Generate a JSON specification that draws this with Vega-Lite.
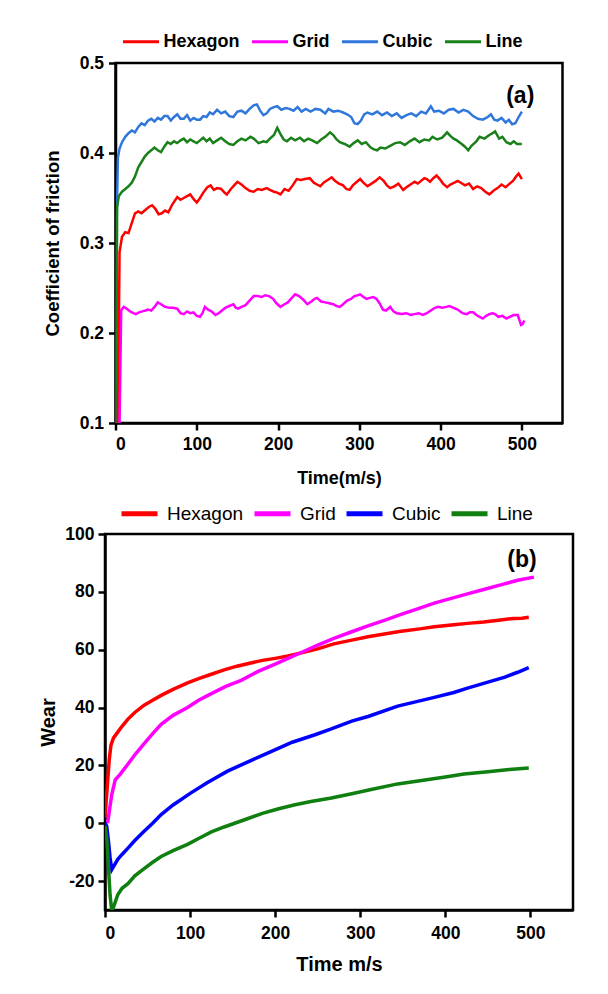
{
"$schema": "https://vega.github.io/schema/vega-lite/v6.json",
"background": "white",
"padding": {"left": 37, "top": 20, "right": 5, "bottom": 5},
"autosize": {"type": "pad"},
"bounds": "flush",
"center": true,
"spacing": 111,
"resolve": {"scale": {"color": "independent"}, "legend": {"color": "independent"}},
"config": {
  "font": "Liberation Sans",
  "view": {"stroke": "black", "strokeWidth": 2.5},
  "axis": {"domainColor": "black", "domainWidth": 2.5, "tickColor": "black", "tickWidth": 2.5, "tickSize": 7, "labelColor": "black", "labelFont": "Liberation Sans", "labelFontWeight": "bold", "labelFontSize": 17.5, "titleColor": "black", "titleFont": "Liberation Sans", "titleFontWeight": "bold", "grid": false},
  "legend": {"padding": 0, "labelColor": "black", "labelFont": "Liberation Sans", "symbolType": "stroke"}
},
"datasets": {
"cof": [
{"s":"Cubic","t":0.5,"v":0.1},{"s":"Cubic","t":1.5,"v":0.33},{"s":"Cubic","t":3,"v":0.395},{"s":"Cubic","t":5,"v":0.405},{"s":"Cubic","t":8,"v":0.412},{"s":"Cubic","t":12,"v":0.418},{"s":"Cubic","t":16,"v":0.422},{"s":"Cubic","t":20,"v":0.425},{"s":"Cubic","t":24,"v":0.423},{"s":"Cubic","t":28,"v":0.429},{"s":"Cubic","t":32,"v":0.433},{"s":"Cubic","t":36,"v":0.431},{"s":"Cubic","t":40,"v":0.436},{"s":"Cubic","t":44,"v":0.438},{"s":"Cubic","t":48,"v":0.435},{"s":"Cubic","t":52,"v":0.439},{"s":"Cubic","t":56,"v":0.437},{"s":"Cubic","t":60,"v":0.441},{"s":"Cubic","t":64,"v":0.441},{"s":"Cubic","t":68,"v":0.436},{"s":"Cubic","t":72,"v":0.44},{"s":"Cubic","t":76,"v":0.443},{"s":"Cubic","t":80,"v":0.438},{"s":"Cubic","t":84,"v":0.438},{"s":"Cubic","t":88,"v":0.442},{"s":"Cubic","t":92,"v":0.436},{"s":"Cubic","t":96,"v":0.439},{"s":"Cubic","t":100,"v":0.437},{"s":"Cubic","t":104,"v":0.437},{"s":"Cubic","t":108,"v":0.441},{"s":"Cubic","t":112,"v":0.44},{"s":"Cubic","t":116,"v":0.445},{"s":"Cubic","t":120,"v":0.443},{"s":"Cubic","t":125,"v":0.448},{"s":"Cubic","t":130,"v":0.444},{"s":"Cubic","t":135,"v":0.446},{"s":"Cubic","t":140,"v":0.441},{"s":"Cubic","t":145,"v":0.44},{"s":"Cubic","t":150,"v":0.446},{"s":"Cubic","t":155,"v":0.447},{"s":"Cubic","t":160,"v":0.444},{"s":"Cubic","t":165,"v":0.449},{"s":"Cubic","t":170,"v":0.453},{"s":"Cubic","t":174,"v":0.454},{"s":"Cubic","t":178,"v":0.447},{"s":"Cubic","t":182,"v":0.442},{"s":"Cubic","t":186,"v":0.444},{"s":"Cubic","t":190,"v":0.449},{"s":"Cubic","t":195,"v":0.451},{"s":"Cubic","t":199,"v":0.452},{"s":"Cubic","t":204,"v":0.448},{"s":"Cubic","t":209,"v":0.45},{"s":"Cubic","t":214,"v":0.449},{"s":"Cubic","t":219,"v":0.447},{"s":"Cubic","t":224,"v":0.451},{"s":"Cubic","t":229,"v":0.446},{"s":"Cubic","t":234,"v":0.449},{"s":"Cubic","t":240,"v":0.446},{"s":"Cubic","t":246,"v":0.449},{"s":"Cubic","t":252,"v":0.448},{"s":"Cubic","t":258,"v":0.444},{"s":"Cubic","t":262,"v":0.449},{"s":"Cubic","t":268,"v":0.446},{"s":"Cubic","t":274,"v":0.447},{"s":"Cubic","t":280,"v":0.445},{"s":"Cubic","t":285,"v":0.443},{"s":"Cubic","t":290,"v":0.44},{"s":"Cubic","t":294,"v":0.433},{"s":"Cubic","t":298,"v":0.432},{"s":"Cubic","t":302,"v":0.436},{"s":"Cubic","t":306,"v":0.443},{"s":"Cubic","t":310,"v":0.445},{"s":"Cubic","t":316,"v":0.443},{"s":"Cubic","t":322,"v":0.446},{"s":"Cubic","t":328,"v":0.442},{"s":"Cubic","t":334,"v":0.445},{"s":"Cubic","t":340,"v":0.441},{"s":"Cubic","t":346,"v":0.444},{"s":"Cubic","t":352,"v":0.439},{"s":"Cubic","t":358,"v":0.442},{"s":"Cubic","t":364,"v":0.444},{"s":"Cubic","t":370,"v":0.441},{"s":"Cubic","t":376,"v":0.446},{"s":"Cubic","t":382,"v":0.444},{"s":"Cubic","t":388,"v":0.452},{"s":"Cubic","t":392,"v":0.446},{"s":"Cubic","t":398,"v":0.447},{"s":"Cubic","t":404,"v":0.444},{"s":"Cubic","t":410,"v":0.448},{"s":"Cubic","t":416,"v":0.449},{"s":"Cubic","t":422,"v":0.445},{"s":"Cubic","t":428,"v":0.448},{"s":"Cubic","t":434,"v":0.446},{"s":"Cubic","t":440,"v":0.441},{"s":"Cubic","t":446,"v":0.438},{"s":"Cubic","t":452,"v":0.437},{"s":"Cubic","t":458,"v":0.44},{"s":"Cubic","t":462,"v":0.443},{"s":"Cubic","t":466,"v":0.437},{"s":"Cubic","t":470,"v":0.436},{"s":"Cubic","t":475,"v":0.439},{"s":"Cubic","t":480,"v":0.434},{"s":"Cubic","t":484,"v":0.437},{"s":"Cubic","t":488,"v":0.432},{"s":"Cubic","t":492,"v":0.433},{"s":"Cubic","t":496,"v":0.44},{"s":"Cubic","t":500,"v":0.446},
{"s":"Line","t":1,"v":0.1},{"s":"Line","t":2,"v":0.34},{"s":"Line","t":4,"v":0.352},{"s":"Line","t":8,"v":0.357},{"s":"Line","t":12,"v":0.36},{"s":"Line","t":16,"v":0.363},{"s":"Line","t":20,"v":0.367},{"s":"Line","t":24,"v":0.374},{"s":"Line","t":28,"v":0.384},{"s":"Line","t":32,"v":0.39},{"s":"Line","t":36,"v":0.396},{"s":"Line","t":40,"v":0.4},{"s":"Line","t":44,"v":0.403},{"s":"Line","t":48,"v":0.406},{"s":"Line","t":52,"v":0.403},{"s":"Line","t":56,"v":0.401},{"s":"Line","t":60,"v":0.407},{"s":"Line","t":64,"v":0.412},{"s":"Line","t":68,"v":0.41},{"s":"Line","t":72,"v":0.413},{"s":"Line","t":76,"v":0.411},{"s":"Line","t":80,"v":0.414},{"s":"Line","t":84,"v":0.416},{"s":"Line","t":88,"v":0.412},{"s":"Line","t":92,"v":0.415},{"s":"Line","t":96,"v":0.413},{"s":"Line","t":100,"v":0.411},{"s":"Line","t":104,"v":0.414},{"s":"Line","t":108,"v":0.417},{"s":"Line","t":112,"v":0.413},{"s":"Line","t":116,"v":0.416},{"s":"Line","t":120,"v":0.411},{"s":"Line","t":125,"v":0.414},{"s":"Line","t":130,"v":0.417},{"s":"Line","t":135,"v":0.413},{"s":"Line","t":140,"v":0.41},{"s":"Line","t":145,"v":0.409},{"s":"Line","t":150,"v":0.413},{"s":"Line","t":155,"v":0.416},{"s":"Line","t":160,"v":0.414},{"s":"Line","t":166,"v":0.418},{"s":"Line","t":170,"v":0.416},{"s":"Line","t":176,"v":0.411},{"s":"Line","t":182,"v":0.413},{"s":"Line","t":186,"v":0.412},{"s":"Line","t":190,"v":0.416},{"s":"Line","t":195,"v":0.42},{"s":"Line","t":199,"v":0.428},{"s":"Line","t":203,"v":0.421},{"s":"Line","t":207,"v":0.415},{"s":"Line","t":211,"v":0.413},{"s":"Line","t":216,"v":0.417},{"s":"Line","t":221,"v":0.414},{"s":"Line","t":227,"v":0.417},{"s":"Line","t":232,"v":0.413},{"s":"Line","t":237,"v":0.416},{"s":"Line","t":242,"v":0.414},{"s":"Line","t":248,"v":0.411},{"s":"Line","t":253,"v":0.415},{"s":"Line","t":258,"v":0.418},{"s":"Line","t":264,"v":0.423},{"s":"Line","t":268,"v":0.42},{"s":"Line","t":272,"v":0.415},{"s":"Line","t":276,"v":0.412},{"s":"Line","t":282,"v":0.41},{"s":"Line","t":288,"v":0.407},{"s":"Line","t":293,"v":0.411},{"s":"Line","t":298,"v":0.414},{"s":"Line","t":303,"v":0.41},{"s":"Line","t":308,"v":0.412},{"s":"Line","t":314,"v":0.406},{"s":"Line","t":318,"v":0.404},{"s":"Line","t":322,"v":0.403},{"s":"Line","t":326,"v":0.406},{"s":"Line","t":332,"v":0.405},{"s":"Line","t":338,"v":0.408},{"s":"Line","t":344,"v":0.411},{"s":"Line","t":350,"v":0.412},{"s":"Line","t":356,"v":0.409},{"s":"Line","t":362,"v":0.413},{"s":"Line","t":368,"v":0.416},{"s":"Line","t":374,"v":0.412},{"s":"Line","t":380,"v":0.415},{"s":"Line","t":386,"v":0.414},{"s":"Line","t":390,"v":0.418},{"s":"Line","t":396,"v":0.415},{"s":"Line","t":402,"v":0.417},{"s":"Line","t":408,"v":0.423},{"s":"Line","t":412,"v":0.419},{"s":"Line","t":416,"v":0.416},{"s":"Line","t":420,"v":0.414},{"s":"Line","t":426,"v":0.41},{"s":"Line","t":430,"v":0.407},{"s":"Line","t":434,"v":0.403},{"s":"Line","t":438,"v":0.408},{"s":"Line","t":444,"v":0.413},{"s":"Line","t":448,"v":0.418},{"s":"Line","t":454,"v":0.416},{"s":"Line","t":460,"v":0.42},{"s":"Line","t":464,"v":0.422},{"s":"Line","t":467,"v":0.424},{"s":"Line","t":472,"v":0.416},{"s":"Line","t":476,"v":0.418},{"s":"Line","t":481,"v":0.412},{"s":"Line","t":486,"v":0.41},{"s":"Line","t":490,"v":0.413},{"s":"Line","t":494,"v":0.41},{"s":"Line","t":500,"v":0.41},
{"s":"Hexagon","t":3,"v":0.1},{"s":"Hexagon","t":5,"v":0.29},{"s":"Hexagon","t":8,"v":0.307},{"s":"Hexagon","t":12,"v":0.312},{"s":"Hexagon","t":16,"v":0.311},{"s":"Hexagon","t":20,"v":0.322},{"s":"Hexagon","t":24,"v":0.333},{"s":"Hexagon","t":28,"v":0.335},{"s":"Hexagon","t":32,"v":0.333},{"s":"Hexagon","t":37,"v":0.337},{"s":"Hexagon","t":41,"v":0.34},{"s":"Hexagon","t":45,"v":0.342},{"s":"Hexagon","t":49,"v":0.338},{"s":"Hexagon","t":53,"v":0.332},{"s":"Hexagon","t":57,"v":0.333},{"s":"Hexagon","t":61,"v":0.336},{"s":"Hexagon","t":65,"v":0.334},{"s":"Hexagon","t":70,"v":0.343},{"s":"Hexagon","t":76,"v":0.351},{"s":"Hexagon","t":80,"v":0.348},{"s":"Hexagon","t":84,"v":0.35},{"s":"Hexagon","t":88,"v":0.352},{"s":"Hexagon","t":92,"v":0.354},{"s":"Hexagon","t":96,"v":0.349},{"s":"Hexagon","t":100,"v":0.345},{"s":"Hexagon","t":104,"v":0.35},{"s":"Hexagon","t":108,"v":0.356},{"s":"Hexagon","t":113,"v":0.362},{"s":"Hexagon","t":117,"v":0.364},{"s":"Hexagon","t":121,"v":0.359},{"s":"Hexagon","t":125,"v":0.361},{"s":"Hexagon","t":130,"v":0.36},{"s":"Hexagon","t":134,"v":0.356},{"s":"Hexagon","t":137,"v":0.354},{"s":"Hexagon","t":142,"v":0.36},{"s":"Hexagon","t":146,"v":0.364},{"s":"Hexagon","t":150,"v":0.368},{"s":"Hexagon","t":155,"v":0.365},{"s":"Hexagon","t":160,"v":0.361},{"s":"Hexagon","t":165,"v":0.358},{"s":"Hexagon","t":170,"v":0.357},{"s":"Hexagon","t":175,"v":0.36},{"s":"Hexagon","t":180,"v":0.359},{"s":"Hexagon","t":186,"v":0.361},{"s":"Hexagon","t":190,"v":0.359},{"s":"Hexagon","t":195,"v":0.357},{"s":"Hexagon","t":199,"v":0.356},{"s":"Hexagon","t":203,"v":0.354},{"s":"Hexagon","t":208,"v":0.36},{"s":"Hexagon","t":213,"v":0.358},{"s":"Hexagon","t":218,"v":0.364},{"s":"Hexagon","t":223,"v":0.371},{"s":"Hexagon","t":228,"v":0.37},{"s":"Hexagon","t":233,"v":0.371},{"s":"Hexagon","t":239,"v":0.372},{"s":"Hexagon","t":244,"v":0.367},{"s":"Hexagon","t":248,"v":0.365},{"s":"Hexagon","t":252,"v":0.363},{"s":"Hexagon","t":256,"v":0.367},{"s":"Hexagon","t":261,"v":0.37},{"s":"Hexagon","t":266,"v":0.373},{"s":"Hexagon","t":270,"v":0.369},{"s":"Hexagon","t":275,"v":0.366},{"s":"Hexagon","t":280,"v":0.364},{"s":"Hexagon","t":284,"v":0.36},{"s":"Hexagon","t":288,"v":0.359},{"s":"Hexagon","t":292,"v":0.364},{"s":"Hexagon","t":297,"v":0.368},{"s":"Hexagon","t":301,"v":0.371},{"s":"Hexagon","t":305,"v":0.367},{"s":"Hexagon","t":310,"v":0.363},{"s":"Hexagon","t":315,"v":0.366},{"s":"Hexagon","t":320,"v":0.369},{"s":"Hexagon","t":325,"v":0.373},{"s":"Hexagon","t":330,"v":0.369},{"s":"Hexagon","t":334,"v":0.364},{"s":"Hexagon","t":338,"v":0.361},{"s":"Hexagon","t":343,"v":0.363},{"s":"Hexagon","t":348,"v":0.366},{"s":"Hexagon","t":354,"v":0.359},{"s":"Hexagon","t":358,"v":0.362},{"s":"Hexagon","t":363,"v":0.365},{"s":"Hexagon","t":368,"v":0.368},{"s":"Hexagon","t":372,"v":0.366},{"s":"Hexagon","t":376,"v":0.369},{"s":"Hexagon","t":380,"v":0.372},{"s":"Hexagon","t":383,"v":0.371},{"s":"Hexagon","t":387,"v":0.368},{"s":"Hexagon","t":391,"v":0.372},{"s":"Hexagon","t":395,"v":0.375},{"s":"Hexagon","t":399,"v":0.371},{"s":"Hexagon","t":403,"v":0.366},{"s":"Hexagon","t":408,"v":0.362},{"s":"Hexagon","t":412,"v":0.365},{"s":"Hexagon","t":417,"v":0.367},{"s":"Hexagon","t":421,"v":0.369},{"s":"Hexagon","t":425,"v":0.367},{"s":"Hexagon","t":430,"v":0.364},{"s":"Hexagon","t":435,"v":0.366},{"s":"Hexagon","t":440,"v":0.36},{"s":"Hexagon","t":445,"v":0.363},{"s":"Hexagon","t":450,"v":0.361},{"s":"Hexagon","t":455,"v":0.357},{"s":"Hexagon","t":460,"v":0.354},{"s":"Hexagon","t":465,"v":0.358},{"s":"Hexagon","t":470,"v":0.361},{"s":"Hexagon","t":475,"v":0.365},{"s":"Hexagon","t":480,"v":0.362},{"s":"Hexagon","t":485,"v":0.366},{"s":"Hexagon","t":489,"v":0.369},{"s":"Hexagon","t":493,"v":0.374},{"s":"Hexagon","t":496,"v":0.377},{"s":"Hexagon","t":500,"v":0.371},
{"s":"Grid","t":5,"v":0.1},{"s":"Grid","t":7,"v":0.225},{"s":"Grid","t":10,"v":0.229},{"s":"Grid","t":14,"v":0.227},{"s":"Grid","t":18,"v":0.224},{"s":"Grid","t":22,"v":0.222},{"s":"Grid","t":25,"v":0.221},{"s":"Grid","t":29,"v":0.223},{"s":"Grid","t":33,"v":0.224},{"s":"Grid","t":37,"v":0.225},{"s":"Grid","t":40,"v":0.226},{"s":"Grid","t":44,"v":0.225},{"s":"Grid","t":48,"v":0.229},{"s":"Grid","t":52,"v":0.234},{"s":"Grid","t":56,"v":0.232},{"s":"Grid","t":61,"v":0.229},{"s":"Grid","t":66,"v":0.228},{"s":"Grid","t":71,"v":0.228},{"s":"Grid","t":76,"v":0.227},{"s":"Grid","t":80,"v":0.222},{"s":"Grid","t":84,"v":0.221},{"s":"Grid","t":88,"v":0.224},{"s":"Grid","t":92,"v":0.222},{"s":"Grid","t":96,"v":0.223},{"s":"Grid","t":100,"v":0.219},{"s":"Grid","t":104,"v":0.218},{"s":"Grid","t":107,"v":0.222},{"s":"Grid","t":110,"v":0.229},{"s":"Grid","t":114,"v":0.226},{"s":"Grid","t":118,"v":0.224},{"s":"Grid","t":123,"v":0.22},{"s":"Grid","t":127,"v":0.222},{"s":"Grid","t":131,"v":0.225},{"s":"Grid","t":135,"v":0.228},{"s":"Grid","t":140,"v":0.23},{"s":"Grid","t":145,"v":0.232},{"s":"Grid","t":148,"v":0.228},{"s":"Grid","t":151,"v":0.227},{"s":"Grid","t":155,"v":0.229},{"s":"Grid","t":160,"v":0.231},{"s":"Grid","t":165,"v":0.236},{"s":"Grid","t":170,"v":0.241},{"s":"Grid","t":175,"v":0.241},{"s":"Grid","t":180,"v":0.24},{"s":"Grid","t":184,"v":0.242},{"s":"Grid","t":189,"v":0.241},{"s":"Grid","t":194,"v":0.238},{"s":"Grid","t":198,"v":0.233},{"s":"Grid","t":203,"v":0.229},{"s":"Grid","t":208,"v":0.232},{"s":"Grid","t":212,"v":0.234},{"s":"Grid","t":217,"v":0.239},{"s":"Grid","t":221,"v":0.243},{"s":"Grid","t":226,"v":0.241},{"s":"Grid","t":231,"v":0.237},{"s":"Grid","t":236,"v":0.232},{"s":"Grid","t":241,"v":0.235},{"s":"Grid","t":245,"v":0.238},{"s":"Grid","t":248,"v":0.239},{"s":"Grid","t":253,"v":0.235},{"s":"Grid","t":258,"v":0.234},{"s":"Grid","t":263,"v":0.233},{"s":"Grid","t":268,"v":0.232},{"s":"Grid","t":272,"v":0.23},{"s":"Grid","t":276,"v":0.229},{"s":"Grid","t":280,"v":0.232},{"s":"Grid","t":285,"v":0.236},{"s":"Grid","t":290,"v":0.238},{"s":"Grid","t":294,"v":0.241},{"s":"Grid","t":298,"v":0.242},{"s":"Grid","t":301,"v":0.243},{"s":"Grid","t":305,"v":0.24},{"s":"Grid","t":309,"v":0.238},{"s":"Grid","t":313,"v":0.239},{"s":"Grid","t":317,"v":0.24},{"s":"Grid","t":321,"v":0.238},{"s":"Grid","t":325,"v":0.233},{"s":"Grid","t":329,"v":0.226},{"s":"Grid","t":333,"v":0.225},{"s":"Grid","t":338,"v":0.229},{"s":"Grid","t":342,"v":0.224},{"s":"Grid","t":346,"v":0.222},{"s":"Grid","t":352,"v":0.221},{"s":"Grid","t":358,"v":0.222},{"s":"Grid","t":363,"v":0.22},{"s":"Grid","t":368,"v":0.221},{"s":"Grid","t":373,"v":0.222},{"s":"Grid","t":378,"v":0.22},{"s":"Grid","t":383,"v":0.222},{"s":"Grid","t":388,"v":0.225},{"s":"Grid","t":393,"v":0.228},{"s":"Grid","t":397,"v":0.229},{"s":"Grid","t":402,"v":0.228},{"s":"Grid","t":407,"v":0.229},{"s":"Grid","t":411,"v":0.23},{"s":"Grid","t":416,"v":0.228},{"s":"Grid","t":421,"v":0.226},{"s":"Grid","t":427,"v":0.222},{"s":"Grid","t":432,"v":0.221},{"s":"Grid","t":436,"v":0.223},{"s":"Grid","t":440,"v":0.223},{"s":"Grid","t":444,"v":0.22},{"s":"Grid","t":448,"v":0.218},{"s":"Grid","t":452,"v":0.216},{"s":"Grid","t":456,"v":0.219},{"s":"Grid","t":460,"v":0.221},{"s":"Grid","t":464,"v":0.222},{"s":"Grid","t":467,"v":0.221},{"s":"Grid","t":471,"v":0.218},{"s":"Grid","t":476,"v":0.219},{"s":"Grid","t":481,"v":0.216},{"s":"Grid","t":485,"v":0.218},{"s":"Grid","t":490,"v":0.22},{"s":"Grid","t":495,"v":0.22},{"s":"Grid","t":499,"v":0.209},{"s":"Grid","t":501,"v":0.21},{"s":"Grid","t":503,"v":0.214}
],
"wear": [
{"s":"Hexagon","t":0,"v":2},{"s":"Hexagon","t":3,"v":14},{"s":"Hexagon","t":5,"v":22},{"s":"Hexagon","t":7,"v":27},{"s":"Hexagon","t":10,"v":29.5},{"s":"Hexagon","t":15,"v":31.5},{"s":"Hexagon","t":20,"v":33.5},{"s":"Hexagon","t":27,"v":36},{"s":"Hexagon","t":35,"v":38.3},{"s":"Hexagon","t":46,"v":40.8},{"s":"Hexagon","t":56,"v":42.5},{"s":"Hexagon","t":66,"v":44.2},{"s":"Hexagon","t":80,"v":46.3},{"s":"Hexagon","t":97,"v":48.5},{"s":"Hexagon","t":110,"v":50},{"s":"Hexagon","t":125,"v":51.5},{"s":"Hexagon","t":140,"v":53},{"s":"Hexagon","t":155,"v":54.3},{"s":"Hexagon","t":170,"v":55.3},{"s":"Hexagon","t":185,"v":56.3},{"s":"Hexagon","t":200,"v":57},{"s":"Hexagon","t":215,"v":57.8},{"s":"Hexagon","t":232,"v":59},{"s":"Hexagon","t":250,"v":60.3},{"s":"Hexagon","t":269,"v":62},{"s":"Hexagon","t":290,"v":63.3},{"s":"Hexagon","t":309,"v":64.5},{"s":"Hexagon","t":330,"v":65.5},{"s":"Hexagon","t":348,"v":66.4},{"s":"Hexagon","t":370,"v":67.2},{"s":"Hexagon","t":387,"v":67.9},{"s":"Hexagon","t":410,"v":68.6},{"s":"Hexagon","t":426,"v":69.1},{"s":"Hexagon","t":445,"v":69.6},{"s":"Hexagon","t":465,"v":70.3},{"s":"Hexagon","t":480,"v":70.8},{"s":"Hexagon","t":490,"v":70.9},{"s":"Hexagon","t":498,"v":71.2},
{"s":"Grid","t":3,"v":0},{"s":"Grid","t":8,"v":10},{"s":"Grid","t":12,"v":15},{"s":"Grid","t":18,"v":17},{"s":"Grid","t":27,"v":20.5},{"s":"Grid","t":36,"v":24},{"s":"Grid","t":46,"v":27.5},{"s":"Grid","t":56,"v":31},{"s":"Grid","t":66,"v":34.2},{"s":"Grid","t":80,"v":37.3},{"s":"Grid","t":97,"v":40},{"s":"Grid","t":110,"v":42.5},{"s":"Grid","t":125,"v":44.8},{"s":"Grid","t":142,"v":47.3},{"s":"Grid","t":160,"v":49.4},{"s":"Grid","t":180,"v":52.5},{"s":"Grid","t":200,"v":55},{"s":"Grid","t":215,"v":57},{"s":"Grid","t":232,"v":59.2},{"s":"Grid","t":250,"v":61.6},{"s":"Grid","t":269,"v":63.9},{"s":"Grid","t":290,"v":66.2},{"s":"Grid","t":309,"v":68.2},{"s":"Grid","t":330,"v":70.3},{"s":"Grid","t":348,"v":72.2},{"s":"Grid","t":370,"v":74.4},{"s":"Grid","t":387,"v":76.1},{"s":"Grid","t":410,"v":78},{"s":"Grid","t":426,"v":79.3},{"s":"Grid","t":445,"v":80.8},{"s":"Grid","t":465,"v":82.4},{"s":"Grid","t":485,"v":84},{"s":"Grid","t":504,"v":85.1},
{"s":"Cubic","t":0,"v":0},{"s":"Cubic","t":2,"v":-1},{"s":"Cubic","t":4,"v":-6},{"s":"Cubic","t":6,"v":-12},{"s":"Cubic","t":8,"v":-16},{"s":"Cubic","t":10,"v":-15},{"s":"Cubic","t":15,"v":-12.5},{"s":"Cubic","t":20,"v":-10.8},{"s":"Cubic","t":27,"v":-8.6},{"s":"Cubic","t":35,"v":-6},{"s":"Cubic","t":46,"v":-2.8},{"s":"Cubic","t":56,"v":0},{"s":"Cubic","t":66,"v":3},{"s":"Cubic","t":80,"v":6.3},{"s":"Cubic","t":101,"v":10.5},{"s":"Cubic","t":120,"v":14},{"s":"Cubic","t":144,"v":18},{"s":"Cubic","t":170,"v":21.5},{"s":"Cubic","t":199,"v":25.3},{"s":"Cubic","t":220,"v":28},{"s":"Cubic","t":246,"v":30.5},{"s":"Cubic","t":266,"v":32.6},{"s":"Cubic","t":290,"v":35.3},{"s":"Cubic","t":310,"v":37},{"s":"Cubic","t":344,"v":40.5},{"s":"Cubic","t":360,"v":41.6},{"s":"Cubic","t":387,"v":43.5},{"s":"Cubic","t":410,"v":45.2},{"s":"Cubic","t":426,"v":46.7},{"s":"Cubic","t":450,"v":48.8},{"s":"Cubic","t":470,"v":50.5},{"s":"Cubic","t":485,"v":52.2},{"s":"Cubic","t":498,"v":53.8},
{"s":"Line","t":0,"v":-1},{"s":"Line","t":2,"v":-5},{"s":"Line","t":4,"v":-15},{"s":"Line","t":6,"v":-25},{"s":"Line","t":8,"v":-30.5},{"s":"Line","t":10,"v":-29},{"s":"Line","t":15,"v":-24.7},{"s":"Line","t":20,"v":-22.5},{"s":"Line","t":27,"v":-20.9},{"s":"Line","t":35,"v":-18.2},{"s":"Line","t":46,"v":-15.7},{"s":"Line","t":56,"v":-13.5},{"s":"Line","t":66,"v":-11.5},{"s":"Line","t":80,"v":-9.5},{"s":"Line","t":97,"v":-7.3},{"s":"Line","t":110,"v":-5.3},{"s":"Line","t":125,"v":-3},{"s":"Line","t":140,"v":-1.3},{"s":"Line","t":164,"v":1.2},{"s":"Line","t":185,"v":3.4},{"s":"Line","t":203,"v":4.9},{"s":"Line","t":222,"v":6.3},{"s":"Line","t":242,"v":7.5},{"s":"Line","t":266,"v":8.7},{"s":"Line","t":290,"v":10.2},{"s":"Line","t":310,"v":11.5},{"s":"Line","t":344,"v":13.6},{"s":"Line","t":370,"v":14.7},{"s":"Line","t":400,"v":16},{"s":"Line","t":422,"v":17},{"s":"Line","t":450,"v":17.8},{"s":"Line","t":475,"v":18.6},{"s":"Line","t":498,"v":19.1}
]
},
"vconcat": [
{
  "width": 447, "height": 360,
  "layer": [
    {
      "data": {"name": "cof"},
      "mark": {"type": "line", "strokeWidth": 2.5, "clip": true},
      "encoding": {
        "x": {"field": "t", "type": "quantitative", "scale": {"domain": [0, 550], "nice": false}, "axis": {"values": [0, 100, 200, 300, 400, 500], "title": "Time(m/s)", "titleFontSize": 18, "labelPadding": 5, "titlePadding": 17}},
        "y": {"field": "v", "type": "quantitative", "scale": {"domain": [0.1, 0.5], "nice": false, "zero": false}, "axis": {"values": [0.1, 0.2, 0.3, 0.4, 0.5], "format": ".1f", "title": "Coefficient of friction", "titleFontSize": 18.5, "labelPadding": 5, "titlePadding": 17}},
        "color": {"field": "s", "type": "nominal", "scale": {"domain": ["Hexagon", "Grid", "Cubic", "Line"], "range": ["#ff0000", "#ff00ff", "#2f77dc", "#1a801a"]},
          "legend": {"orient": "none", "legendX": 6, "legendY": -41, "direction": "horizontal", "title": null, "symbolType": "stroke", "symbolSize": 1296, "symbolStrokeWidth": 3, "labelFontSize": 18, "labelFontWeight": "bold", "labelOffset": 3, "columnPadding": 5}}
      }
    },
    {
      "data": {"values": [{"t": 498, "v": 0.463, "lab": "(a)"}]},
      "mark": {"type": "text", "fontSize": 23, "fontWeight": "bold", "align": "center", "baseline": "middle", "color": "black"},
      "encoding": {"x": {"field": "t", "type": "quantitative"}, "y": {"field": "v", "type": "quantitative"}, "text": {"field": "lab"}}
    }
  ]
},
{
  "width": 468, "height": 376,
  "layer": [
    {
      "data": {"name": "wear"},
      "mark": {"type": "line", "strokeWidth": 3.5, "clip": true},
      "encoding": {
        "x": {"field": "t", "type": "quantitative", "scale": {"domain": [0, 550], "nice": false}, "axis": {"values": [0, 100, 200, 300, 400, 500], "title": "Time m/s", "titleFontSize": 20, "labelPadding": 7, "titlePadding": 13}},
        "y": {"field": "v", "type": "quantitative", "scale": {"domain": [-30, 100], "nice": false, "zero": false}, "axis": {"values": [-20, 0, 20, 40, 60, 80, 100], "labelExpr": "'' + datum.value", "title": "Wear", "titleFontSize": 20, "labelPadding": 4, "titlePadding": 6}},
        "color": {"field": "s", "type": "nominal", "scale": {"domain": ["Hexagon", "Grid", "Cubic", "Line"], "range": ["#ff0000", "#ff00ff", "#0000ff", "#0f7f0f"]},
          "legend": {"orient": "none", "legendX": 14, "legendY": -41, "direction": "horizontal", "title": null, "symbolType": "stroke", "symbolSize": 1296, "symbolStrokeWidth": 5, "labelFontSize": 19, "labelFontWeight": "normal", "labelOffset": 7, "columnPadding": 0}}
      }
    },
    {
      "data": {"values": [{"t": 490, "v": 91, "lab": "(b)"}]},
      "mark": {"type": "text", "fontSize": 23, "fontWeight": "bold", "align": "center", "baseline": "middle", "color": "black"},
      "encoding": {"x": {"field": "t", "type": "quantitative"}, "y": {"field": "v", "type": "quantitative"}, "text": {"field": "lab"}}
    }
  ]
}
]
}
